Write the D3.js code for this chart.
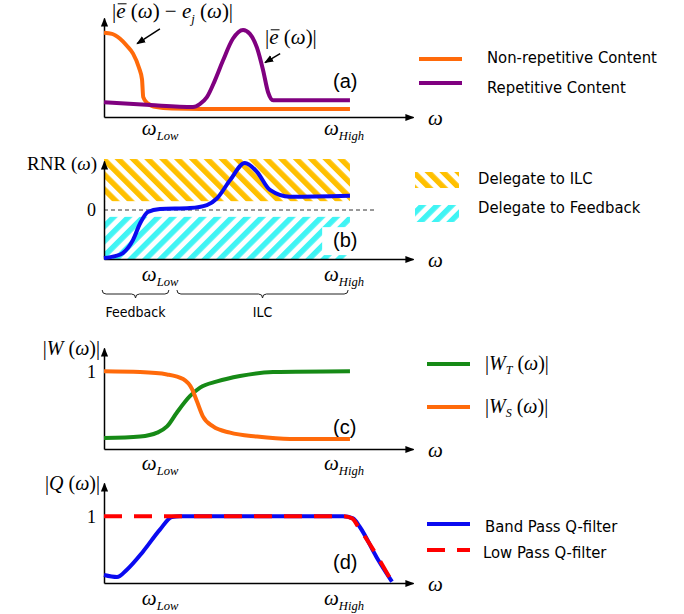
<!DOCTYPE html>
<html>
<head>
<meta charset="utf-8">
<script src="https://cdn.jsdelivr.net/npm/d3@7"></script>
<style>
  body { margin: 0; background: #fff; }
  .sans { font-family: "DejaVu Sans Condensed", "DejaVu Sans", sans-serif; font-stretch: condensed; }
</style>
</head>
<body>
<div id="chart"></div>
<script>
// ---- data (omega on a 0..10 scale) ----
var wLow = 1.8, wHigh = 7.75;
var omegaTicks = [wLow, wHigh];

// (a) error spectra
var nonRepetitive = [[0,0.85],[0.26,0.84],[0.52,0.79],[0.74,0.72],[0.94,0.64],[1.13,0.50],[1.23,0.38],[1.27,0.20],[1.4,0.14],[1.7,0.10],[2.2,0.085],[3.1,0.08],[7.96,0.08]];
var repetitive = [[0,0.15],[1.5,0.12],[2.88,0.10],[3.1,0.13],[3.33,0.20],[3.59,0.37],[3.85,0.57],[4.17,0.79],[4.5,0.88],[4.72,0.84],[4.95,0.70],[5.15,0.47],[5.31,0.25],[5.47,0.17],[5.86,0.17],[7.96,0.17]];

// (b) repetitive-to-non-repetitive ratio
var rnr = [[0,-0.98],[0.36,-0.94],[0.61,-0.88],[0.94,-0.61],[1.17,-0.27],[1.42,-0.04],[1.81,0.02],[2.78,0.04],[3.33,0.10],[3.66,0.24],[4.08,0.61],[4.56,0.96],[4.95,0.78],[5.37,0.41],[6.02,0.27],[7.96,0.29]];
var ilcBand = [0, 7.96, 0.18, 1.04];        // x0, x1, y0, y1
var feedbackBand = [0, 7.96, -1, -0.14];
var braces = [["Feedback", -0.06, 2.1], ["ILC", 2.36, 7.9]];

// (c) weighting functions
var wT = [[0,0.14],[1.17,0.16],[1.72,0.21],[2.04,0.29],[2.36,0.47],[2.78,0.68],[3.11,0.79],[3.66,0.87],[4.4,0.94],[5.47,0.99],[7.96,1.0]];
var wS = [[0,1.0],[1.17,0.99],[2.04,0.96],[2.56,0.90],[2.85,0.77],[3.01,0.61],[3.2,0.42],[3.53,0.29],[4.08,0.21],[4.95,0.16],[6.02,0.13],[7.96,0.13]];

// (d) Q-filters
var bandPass = [[0,0.12],[0.42,0.09],[0.74,0.2],[1.26,0.47],[1.81,0.8],[2.2,0.99],[2.46,1.0],[7.73,1.0],[8.06,0.97],[8.28,0.84],[8.83,0.38],[9.32,0.02]];
var lowPass = [[0,1],[7.73,1],[8.03,0.97],[8.22,0.85],[9.32,0.02]];

var colors = { orange: "#ff6a0a", purple: "#800080", blue: "#0a0af0", green: "#168a16", red: "#ff0000" };

var svg = d3.select("#chart").append("svg")
  .attr("width", 684)
  .attr("height", 614);

var defs = svg.append("defs");
defs.append("marker")
  .attr("id", "arrow")
  .attr("viewBox", "0 0 10 10")
  .attr("refX", 9).attr("refY", 5)
  .attr("markerWidth", 9).attr("markerHeight", 9)
  .attr("markerUnits", "userSpaceOnUse")
  .attr("orient", "auto")
  .append("path").attr("d", "M0,1L10,5L0,9Z").attr("fill", "#000");

function hatch(id, color, angle) {
  var p = defs.append("pattern")
    .attr("id", id)
    .attr("patternUnits", "userSpaceOnUse")
    .attr("width", 10.5).attr("height", 10.5)
    .attr("patternTransform", `rotate(${angle})`);
  p.append("rect").attr("width", 5.5).attr("height", 10.5).attr("fill", color);
}
hatch("hatchILC", "#ffc000", -45);
hatch("hatchFB", "#40f4f4", 45);

var x = d3.scaleLinear().domain([0, 10]).range([104, 413]);

var serif = "'Liberation Serif', 'Times New Roman', serif";

// writes math-ish text from pieces: {t, i: italic, sub: subscript, over: overline}
function mathText(g, xPos, yPos, parts, size, anchor) {
  var t = g.append("text")
    .attr("x", xPos).attr("y", yPos)
    .attr("font-family", serif)
    .attr("font-size", size)
    .attr("fill", "#000")
    .attr("text-anchor", anchor || "start");
  var shift = 0, overs = [];
  parts.forEach(function(p) {
    var s = t.append("tspan").text(p.t);
    var want = p.sub ? size * 0.22 : 0;
    if (want !== shift) { s.attr("dy", want - shift); shift = want; }
    if (p.i) s.attr("font-style", "italic");
    if (p.sub) s.attr("font-size", size * 0.6);
    if (p.over) overs.push(s);
  });
  // bar over a letter, placed from the rendered glyph box
  overs.forEach(function(s) {
    var box = s.node().getExtentOfChar(0);
    g.append("line")
      .attr("x1", box.x + 1.5).attr("x2", box.x + box.width + 1)
      .attr("y1", box.y + box.height * 0.2).attr("y2", box.y + box.height * 0.2)
      .attr("stroke", "#000").attr("stroke-width", 1);
  });
  return t;
}

var omegaSub = function(name) { return [{t: "ω", i: 1}, {t: name, i: 1, sub: 1}]; };

var panels = [
  {key: "a", base: 117, top: 18, domain: [0, 1], ticks: [], labOff: 18, tag: 88},
  {key: "b", base: 259, top: 161, domain: [-1, 1], ticks: [0], labOff: 22, tag: 247},
  {key: "c", base: 449, top: 348, domain: [0, 1.3], ticks: [1], labOff: 21, tag: 434},
  {key: "d", base: 583, top: 483, domain: [0, 1.5], ticks: [1], labOff: 22, tag: 569}
];

panels.forEach(function(p) {
  p.y = d3.scaleLinear().domain(p.domain).range([p.base, p.top]);
  p.g = svg.append("g").attr("class", "panel-" + p.key);
});

var line = function(y) {
  return d3.line().x(d => x(d[0])).y(d => y(d[1])).curve(d3.curveMonotoneX);
};

// ---- panel (b) hatched regions go under the axes ----
var pb = panels[1];
[[ilcBand, "url(#hatchILC)"], [feedbackBand, "url(#hatchFB)"]].forEach(function(b) {
  pb.g.append("rect")
    .attr("x", x(b[0][0]))
    .attr("y", pb.y(b[0][3]))
    .attr("width", x(b[0][1]) - x(b[0][0]))
    .attr("height", pb.y(b[0][2]) - pb.y(b[0][3]))
    .attr("fill", b[1]);
});
// white box behind the (b) tag
pb.g.append("rect")
  .attr("x", x(7.06)).attr("y", pb.y(-0.35))
  .attr("width", x(8.03) - x(7.06)).attr("height", pb.y(-0.92) - pb.y(-0.35))
  .attr("fill", "#fff");
// zero line
pb.g.append("line")
  .attr("x1", x(0)).attr("x2", x(8.83))
  .attr("y1", pb.y(0)).attr("y2", pb.y(0))
  .attr("stroke", "#333").attr("stroke-width", 1)
  .attr("stroke-dasharray", "4,3");

// ---- axes ----
panels.forEach(function(p) {
  var xAxis = p.g.append("g")
    .attr("transform", `translate(0, ${p.base})`)
    .call(d3.axisBottom(x).tickValues(omegaTicks).tickSize(0).tickSizeOuter(0).tickFormat(""));
  xAxis.select(".domain").attr("stroke", "#000").attr("stroke-width", 1.5).attr("marker-end", "url(#arrow)");
  xAxis.selectAll(".tick").each(function(d, i) {
    var tick = d3.select(this);
    tick.select("text").remove();
    mathText(tick, 0, p.labOff, omegaSub(i === 0 ? "Low" : "High"), 21, "middle");
  });
  mathText(p.g, 428, p.base + 8, [{t: "ω", i: 1}], 21);

  var yAxis = p.g.append("g")
    .attr("transform", `translate(${x(0)}, 0)`)
    .call(d3.axisLeft(p.y).tickValues(p.ticks).tickSize(0).tickSizeOuter(0).tickPadding(8).tickFormat(d3.format("d")));
  yAxis.select(".domain").attr("stroke", "#000").attr("stroke-width", 1.5).attr("marker-end", "url(#arrow)");
  yAxis.selectAll(".tick text").attr("font-family", serif).attr("font-size", 18).attr("fill", "#000");

  p.g.append("text")
    .attr("x", 333).attr("y", p.tag)
    .attr("font-family", "'Liberation Sans', Arial, sans-serif")
    .attr("font-size", 20)
    .text("(" + p.key + ")");
});

// ---- curves ----
var pa = panels[0], pc = panels[2], pd = panels[3];
function curve(p, data, color, dash) {
  p.g.append("path")
    .datum(data)
    .attr("d", line(p.y))
    .attr("fill", "none")
    .attr("stroke", color)
    .attr("stroke-width", 4)
    .attr("stroke-dasharray", dash || null);
}
curve(pa, nonRepetitive, colors.orange);
curve(pa, repetitive, colors.purple);
curve(pb, rnr, colors.blue);
curve(pc, wT, colors.green);
curve(pc, wS, colors.orange);
curve(pd, bandPass, colors.blue);
curve(pd, lowPass, colors.red, "18,12");

// ---- annotations in (a) ----
[[1.81, 0.89, 1.07, 0.74], [5.7, 0.64, 5.21, 0.55]].forEach(function(a) {
  pa.g.append("line")
    .attr("x1", x(a[0])).attr("y1", pa.y(a[1]))
    .attr("x2", x(a[2])).attr("y2", pa.y(a[3]))
    .attr("stroke", "#000").attr("stroke-width", 1.5)
    .attr("marker-end", "url(#arrow)");
});
mathText(pa.g, 112, 18, [{t: "|"}, {t: "e", i: 1, over: 1}, {t: " ("}, {t: "ω", i: 1}, {t: ") − "}, {t: "e", i: 1}, {t: "j", i: 1, sub: 1}, {t: " ("}, {t: "ω", i: 1}, {t: ")|"}], 21);
mathText(pa.g, 265, 44, [{t: "|"}, {t: "e", i: 1, over: 1}, {t: " ("}, {t: "ω", i: 1}, {t: ")|"}], 21);

// ---- y labels ----
mathText(pb.g, 97, 170, [{t: "RNR ("}, {t: "ω", i: 1}, {t: ")"}], 19, "end");
mathText(pc.g, 100, 355, [{t: "|"}, {t: "W", i: 1}, {t: " ("}, {t: "ω", i: 1}, {t: ")|"}], 20, "end");
mathText(pd.g, 100, 490, [{t: "|"}, {t: "Q", i: 1}, {t: " ("}, {t: "ω", i: 1}, {t: ")|"}], 20, "end");

// ---- braces under (b) ----
function bracePath(x0, x1, yy, h) {
  var m = (x0 + x1) / 2, r = h / 2;
  return `M${x0},${yy} Q${x0},${yy + r} ${x0 + r},${yy + r} L${m - r},${yy + r} Q${m},${yy + r} ${m},${yy + h}` +
    ` Q${m},${yy + r} ${m + r},${yy + r} L${x1 - r},${yy + r} Q${x1},${yy + r} ${x1},${yy}`;
}
braces.forEach(function(b) {
  svg.append("path")
    .attr("d", bracePath(x(b[1]), x(b[2]), 290, 8))
    .attr("fill", "none").attr("stroke", "#222").attr("stroke-width", 1);
  svg.append("text")
    .attr("class", "sans")
    .attr("x", (x(b[1]) + x(b[2])) / 2).attr("y", 317)
    .attr("text-anchor", "middle")
    .attr("font-size", 14)
    .text(b[0]);
});

// ---- legends ----
var legend = svg.append("g");
function legLine(x1, x2, yy, color, dash) {
  legend.append("line")
    .attr("x1", x1).attr("x2", x2).attr("y1", yy).attr("y2", yy)
    .attr("stroke", color).attr("stroke-width", 4)
    .attr("stroke-dasharray", dash || null);
}
function legText(xx, yy, txt) {
  legend.append("text").attr("class", "sans")
    .attr("x", xx).attr("y", yy).attr("font-size", 16.5).text(txt);
}
legLine(419, 462, 59, colors.orange);
legText(487, 63, "Non-repetitive Content");
legLine(419, 462, 83, colors.purple);
legText(487, 93, "Repetitive Content");

legend.append("rect").attr("x", 415).attr("y", 172).attr("width", 44).attr("height", 16).attr("fill", "url(#hatchILC)");
legText(478, 184, "Delegate to ILC");
legend.append("rect").attr("x", 415).attr("y", 205).attr("width", 44).attr("height", 17).attr("fill", "url(#hatchFB)");
legText(478, 213, "Delegate to Feedback");

legLine(427, 470, 364, colors.green);
mathText(legend, 485, 370, [{t: "|"}, {t: "W", i: 1}, {t: "T", i: 1, sub: 1}, {t: " ("}, {t: "ω", i: 1}, {t: ")|"}], 20);
legLine(427, 470, 407, colors.orange);
mathText(legend, 485, 413, [{t: "|"}, {t: "W", i: 1}, {t: "S", i: 1, sub: 1}, {t: " ("}, {t: "ω", i: 1}, {t: ")|"}], 20);

legLine(427, 470, 524, colors.blue);
legText(485, 532, "Band Pass Q-filter");
legLine(427, 470, 550, colors.red, "18,12");
legText(483, 558, "Low Pass Q-filter");
</script>
</body>
</html>
